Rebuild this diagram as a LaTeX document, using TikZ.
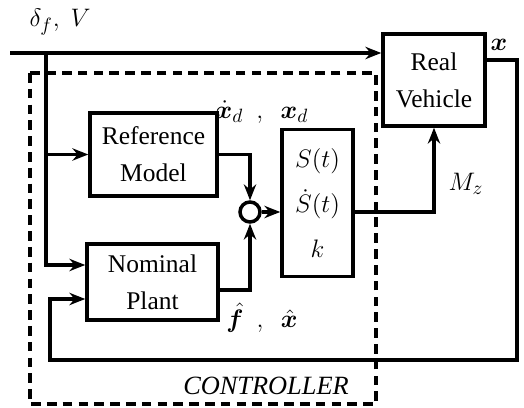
\documentclass[tikz,border=0pt]{standalone}
\usepackage{amsmath,amssymb,bm}
\usepackage{fontspec}
\setmainfont{Liberation Serif}
\usetikzlibrary{arrows.meta,positioning,calc}
\begin{document}
\begin{tikzpicture}[x=0.02cm,y=-0.02cm,>={Stealth[length=9pt,width=7pt]},
  blk/.style={draw,line width=2pt,align=center,inner sep=0pt,font=\fontsize{14.5}{21}\selectfont},
  sig/.style={line width=2pt},
  lbl/.style={font=\fontsize{15}{18}\selectfont,inner sep=1pt}]
\useasboundingbox (0,0) rectangle (524,408);
\draw[line width=2pt,dash pattern=on 5.5pt off 3.5pt] (30,73) rectangle (376,404);
\node[blk,minimum width=2.54cm,minimum height=1.66cm] (rm) at (153.5,154.5) {Reference\\Model};
\node[blk,minimum width=2.62cm,minimum height=1.52cm] (np) at (152.5,282) {Nominal\\Plant};
\node[blk,minimum width=1.42cm,minimum height=2.94cm,font=\fontsize{15}{25.6}\selectfont] (s) at (317.5,203) {$S(t)$\\$\dot{S}(t)$\\$k$};
\node[blk,minimum width=2.04cm,minimum height=1.84cm] (rv) at (434,80) {Real\\Vehicle};
\node[draw,circle,line width=2pt,minimum size=0.4cm,inner sep=0pt] (sum) at (250,212) {};
\coordinate (in) at (10,53);
\coordinate (tap) at (46,53);
\coordinate (fb) at (517,360);
\coordinate (fbl) at (50,360);
\draw[sig,->] (in) -- (in -| rv.west);
\draw[sig,->] (tap) |- ([yshift=0.34cm]np.west);
\draw[sig,->] (tap |- rm.west) -- (rm.west);
\draw[sig,->] (rm.east) -| (sum.north);
\draw[sig,->] ([yshift=-0.16cm]np.east) -| (sum.south);
\draw[sig,->] (sum.east) -- (sum.east -| s.west);
\draw[sig,->] (s.east |- sum) -| (rv.south);
\draw[sig,->] ([yshift=0.4cm]rv.east) -| (fb) -- (fbl) |- ([yshift=-0.34cm]np.west);
\node[lbl] (inlbl) at (60,22) {$\delta_f,\ V$};
\node[lbl] (xdlbl) at (262,112) {$\dot{\bm{x}}_d\ \ ,\ \ \bm{x}_d$};
\node[lbl] (xhlbl) at (262,318) {$\hat{\bm{f}}\ \ ,\ \ \hat{\bm{x}}$};
\node[lbl] (xlbl) at (499,45) {$\bm{x}$};
\node[lbl] (mzlbl) at (466,184) {$M_z$};
\node[lbl,font=\fontsize{15}{18}\selectfont\itshape] (ctl) at (266,386) {CONTROLLER};
\end{tikzpicture}
\end{document}
